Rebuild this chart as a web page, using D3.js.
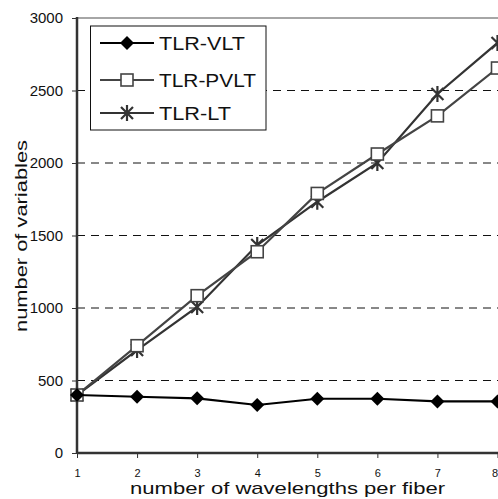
<!DOCTYPE html>
<html>
<head>
<meta charset="utf-8">
<script src="https://cdn.jsdelivr.net/npm/d3@7"></script>
<style>
  body { margin: 0; background: #fff; }
  text { font-family: Arial, "Liberation Sans", sans-serif; }
</style>
</head>
<body>
<div id="chart"></div>
<script>
    var wavelengths = [1, 2, 3, 4, 5, 6, 7, 8];
    var vlt  = [400, 388, 377, 331, 374, 374, 356, 356];
    var pvlt = [400, 740, 1085, 1388, 1790, 2062, 2325, 2655];
    var lt   = [400, 710, 1007, 1434, 1733, 2000, 2476, 2828];
    var yTicks = [0, 500, 1000, 1500, 2000, 2500, 3000];
    var gridTicks = [500, 1000, 1500, 2000, 2500];

    var fullWidth = 498;
    var fullHeight = 499;
    var margin = {top: 18, right: 0, bottom: 46, left: 77};

    var width = fullWidth - margin.left - margin.right;
    var height = fullHeight - margin.top - margin.bottom;

    var svg = d3.select("#chart")
                .append("svg")
                .attr("width", fullWidth)
                .attr("height", fullHeight);

    var g = svg.append("g")
               .attr("transform", "translate(" + margin.left + "," + margin.top + ")");

    var xScale = d3.scaleLinear()
                   .domain([1, 8])
                   .range([0, 420.5]);

    var yScale = d3.scaleLinear()
                   .domain([0, 3000])
                   .range([height, 0]);

    // dashed grid
    g.append("g")
        .attr("class", "grid")
        .selectAll("line")
        .data(gridTicks)
        .enter()
        .append("line")
        .attr("x1", 0)
        .attr("x2", width)
        .attr("y1", function(d) { return yScale(d); })
        .attr("y2", function(d) { return yScale(d); })
        .attr("stroke", "#111")
        .attr("stroke-width", 1)
        .attr("stroke-dasharray", "8,6");

    // top frame line
    g.append("line")
        .attr("x1", 0).attr("x2", width)
        .attr("y1", yScale(3000)).attr("y2", yScale(3000))
        .attr("stroke", "#888")
        .attr("stroke-width", 1.5);

    var yAxis = d3.axisLeft(yScale).tickValues(yTicks).tickSize(5).tickPadding(9)
                  .tickFormat(d3.format("d"));
    var xAxis = d3.axisBottom(xScale).tickValues(wavelengths).tickSize(5).tickPadding(11)
                  .tickFormat(d3.format("d"));

    var ya = g.append("g")
        .attr("class", "y-axis")
        .call(yAxis);
    ya.select(".domain").attr("stroke", "#333").attr("stroke-width", 2.5)
        .attr("d", "M0,-1V" + height);
    ya.selectAll(".tick line").attr("stroke", "#333");
    ya.selectAll("text").style("font-size", "15px").attr("fill", "#111");

    var xa = g.append("g")
        .attr("class", "x-axis")
        .attr("transform", "translate(0," + height + ")")
        .call(xAxis);
    xa.select(".domain").attr("stroke", "#333").attr("stroke-width", 2.5)
        .attr("d", "M0,0H" + width);
    xa.selectAll(".tick line").attr("stroke", "#333");
    xa.selectAll("text").style("font-size", "11px").attr("fill", "#111")
        .attr("dx", function(d) { return d == 8 ? -3 : 0; });

    var line = d3.line()
        .x(function(d, i) { return xScale(wavelengths[i]); })
        .y(function(d) { return yScale(d); });

    var series = [
        {name: "TLR-VLT", values: vlt, color: "#000", marker: "diamond", len: 86},
        {name: "TLR-PVLT", values: pvlt, color: "#444", marker: "square", len: 97},
        {name: "TLR-LT", values: lt, color: "#333", marker: "star", len: 72}
    ];

    function drawMarker(sel, type, color) {
        if (type == "diamond") {
            sel.append("path")
               .attr("d", "M0,-7L7,0L0,7L-7,0Z")
               .attr("fill", "#000");
        } else if (type == "square") {
            sel.append("rect")
               .attr("x", -6).attr("y", -6)
               .attr("width", 12).attr("height", 12)
               .attr("fill", "#fff")
               .attr("stroke", color)
               .attr("stroke-width", 1.6);
        } else {
            sel.append("path")
               .attr("d", "M-6,-6L6,6M-6,6L6,-6M0,-8L0,8")
               .attr("stroke", color)
               .attr("stroke-width", 2.2)
               .attr("fill", "none");
        }
    }

    // draw LT and PVLT first, VLT on top
    [series[2], series[1], series[0]].forEach(function(s) {
        g.append("path")
            .datum(s.values)
            .attr("fill", "none")
            .attr("stroke", s.color)
            .attr("stroke-width", 2.2)
            .attr("d", line);

        g.append("g")
            .selectAll("g.pt")
            .data(s.values)
            .enter()
            .append("g")
            .attr("class", "pt")
            .attr("transform", function(d, i) {
                return "translate(" + xScale(wavelengths[i]) + "," + yScale(d) + ")";
            })
            .each(function() { drawMarker(d3.select(this), s.marker, s.color); });
    });

    // legend
    var legend = svg.append("g").attr("class", "legend");
    legend.append("rect")
        .attr("x", 90.5).attr("y", 26)
        .attr("width", 175.5).attr("height", 104)
        .attr("fill", "#fff")
        .attr("stroke", "#111")
        .attr("stroke-width", 1);

    var legendY = [43, 80, 113];
    series.forEach(function(s, i) {
        var row = legend.append("g")
            .attr("transform", "translate(0," + legendY[i] + ")");
        row.append("line")
            .attr("x1", 100).attr("x2", 154)
            .attr("stroke", s.color)
            .attr("stroke-width", 2.2);
        var m = row.append("g").attr("transform", "translate(127,0)");
        drawMarker(m, s.marker, s.color);
        row.append("text")
            .attr("x", 159)
            .attr("dy", "0.36em")
            .style("font-size", "19px")
            .attr("textLength", s.len)
            .attr("lengthAdjust", "spacingAndGlyphs")
            .attr("fill", "#111")
            .text(s.name);
    });

    svg.append("text")
        .attr("transform", "translate(27,236) rotate(-90)")
        .style("text-anchor", "middle")
        .style("font-size", "17px")
        .attr("textLength", 192)
        .attr("lengthAdjust", "spacingAndGlyphs")
        .attr("fill", "#111")
        .text("number of variables");

    svg.append("text")
        .attr("x", 287.5)
        .attr("y", 494)
        .style("text-anchor", "middle")
        .style("font-size", "17px")
        .attr("textLength", 315)
        .attr("lengthAdjust", "spacingAndGlyphs")
        .attr("fill", "#111")
        .text("number of wavelengths per fiber");
</script>
</body>
</html>
